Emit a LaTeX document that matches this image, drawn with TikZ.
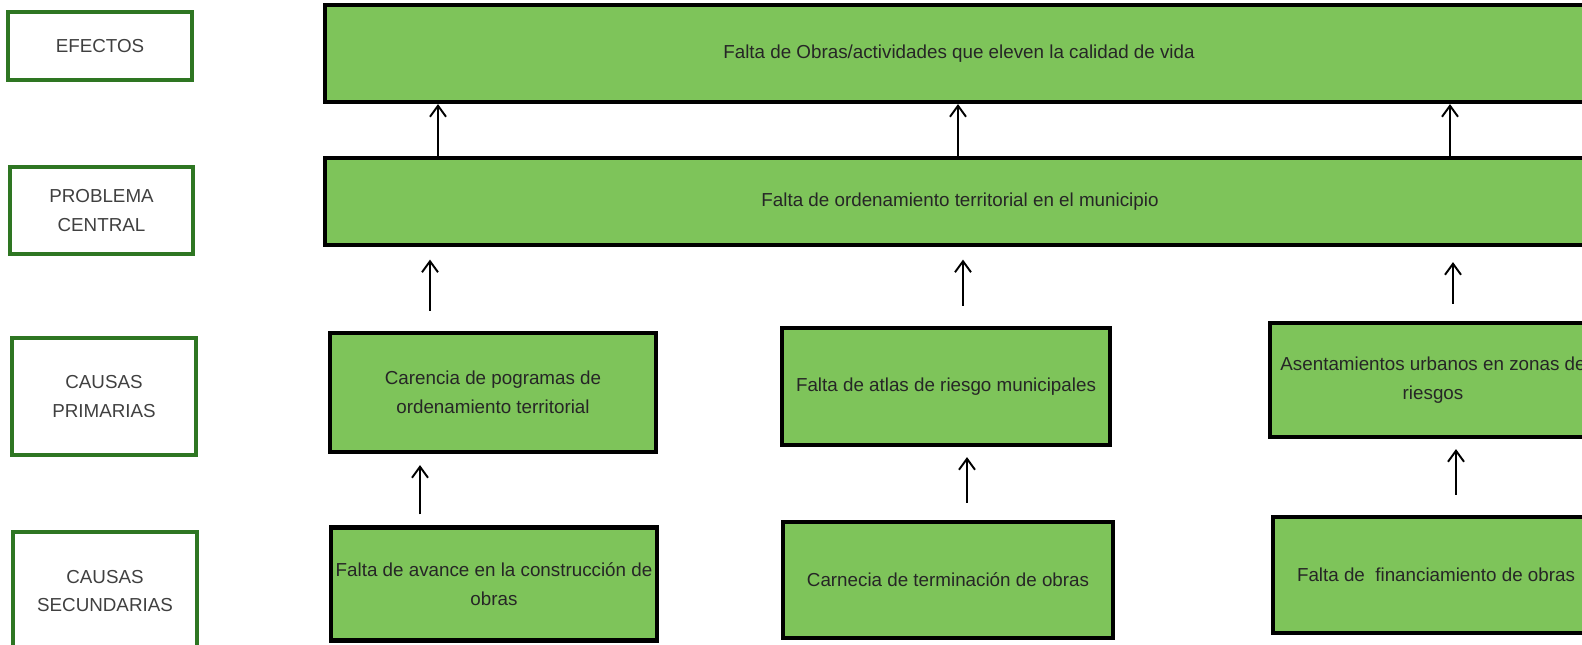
\documentclass[tikz,border=0pt]{standalone}
\usepackage{fontspec}
\setmainfont{Liberation Sans}
\usetikzlibrary{arrows.meta}

\definecolor{verdecaja}{RGB}{126,196,90}
\definecolor{verdeborde}{RGB}{46,118,34}
\definecolor{gristexto}{RGB}{64,64,64}

\tikzset{
  etiqueta/.style={draw=verdeborde, line width=2.2pt, fill=white, text=gristexto, align=center, inner sep=0pt},
  caja/.style={draw=black, line width=2.4pt, fill=verdecaja, text=black!85, align=center, inner sep=0pt},
  flecha/.style={line width=1.1pt, -{Straight Barb[length=0.22cm,width=0.32cm]}}
}

\begin{document}
\begin{tikzpicture}[x=0.02cm, y=-0.02cm, font=\fontsize{10.7}{16.2}\selectfont]
\useasboundingbox (0,0) rectangle (1582,645);
\clip (0,0) rectangle (1582,645);

% etiquetas de la izquierda
\node[etiqueta, minimum width=3.68cm, minimum height=1.36cm] (efectos) at (100,46) {EFECTOS};
\node[etiqueta, minimum width=3.66cm, minimum height=1.74cm] (problema) at (101.5,210.5) {PROBLEMA\\CENTRAL};
\node[etiqueta, minimum width=3.68cm, minimum height=2.34cm] (primarias) at (104,396.5) {CAUSAS\\PRIMARIAS};
\node[etiqueta, minimum width=3.68cm, minimum height=2.36cm] (secundarias) at (105,591) {CAUSAS\\SECUNDARIAS};

% efecto y problema central
\node[caja, minimum width=25.36cm, minimum height=1.94cm] (efecto) at (959,53.5) {Falta de Obras/actividades que eleven la calidad de vida};
\node[caja, minimum width=25.4cm, minimum height=1.74cm] (central) at (960,201.5) {Falta de ordenamiento territorial en el municipio};

% causas primarias
\node[caja, minimum width=6.52cm, minimum height=2.38cm] (carencia) at (493,392.5) {Carencia de pogramas de\\ordenamiento territorial};
\node[caja, minimum width=6.56cm, minimum height=2.34cm] (atlas) at (946,386.5) {Falta de atlas de riesgo municipales};
\node[caja, minimum width=6.52cm, minimum height=2.28cm] (asentamientos) at (1433,380) {Asentamientos urbanos en zonas de\\riesgos};

% causas secundarias
\node[caja, minimum width=6.52cm, minimum height=2.26cm] (avance) at (494,584) {Falta de avance en la construcción de\\obras};
\node[caja, minimum width=6.6cm, minimum height=2.32cm] (terminacion) at (948,580) {Carnecia de terminación de obras};
\node[caja, minimum width=6.52cm, minimum height=2.32cm] (financiamiento) at (1436,575) {Falta de~ financiamiento de obras};

% columnas de las flechas
\coordinate (e1) at (438,0);
\coordinate (e2) at (958,0);
\coordinate (e3) at (1450,0);
\coordinate (p1) at (430,0);
\coordinate (p2) at (963,0);
\coordinate (p3) at (1453,0);
\coordinate (s1) at (420,0);
\coordinate (s2) at (967,0);
\coordinate (s3) at (1456,0);

\draw[flecha] (central.north -| e1) -- (efecto.south -| e1);
\draw[flecha] (central.north -| e2) -- (efecto.south -| e2);
\draw[flecha] (central.north -| e3) -- (efecto.south -| e3);

\draw[flecha, shorten <=0.4cm, shorten >=0.25cm] (carencia.north -| p1) -- (central.south -| p1);
\draw[flecha, shorten <=0.4cm, shorten >=0.25cm] (atlas.north -| p2) -- (central.south -| p2);
\draw[flecha, shorten <=0.34cm, shorten >=0.3cm] (asentamientos.north -| p3) -- (central.south -| p3);

\draw[flecha, shorten <=0.22cm, shorten >=0.22cm] (avance.north -| s1) -- (carencia.south -| s1);
\draw[flecha, shorten <=0.34cm, shorten >=0.2cm] (terminacion.north -| s2) -- (atlas.south -| s2);
\draw[flecha, shorten <=0.4cm, shorten >=0.2cm] (financiamiento.north -| s3) -- (asentamientos.south -| s3);
\end{tikzpicture}
\end{document}
